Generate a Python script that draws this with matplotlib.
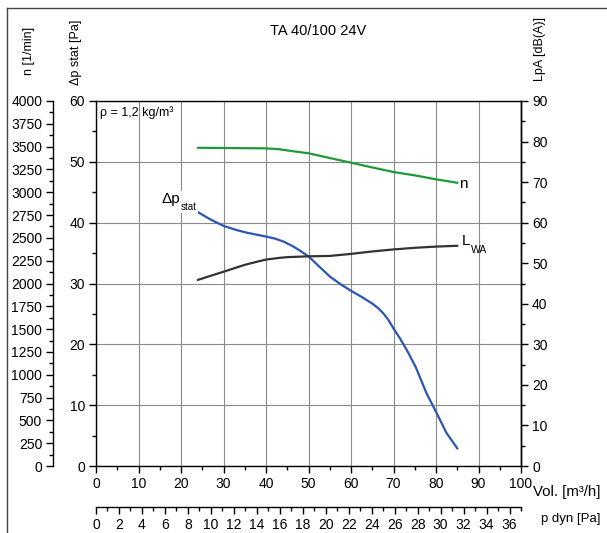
import matplotlib
matplotlib.use("Agg")
import matplotlib.pyplot as plt
from matplotlib.lines import Line2D
from matplotlib.ticker import MultipleLocator

plt.rcParams["font.family"] = ["Liberation Sans", "DejaVu Sans"]

# curve readings (volume flow in m3/h)
vol_p = [23.8, 27.0, 30.1, 33.0, 35.5, 38.0, 40.1, 42.0, 44.1, 46.4, 48.0,
         50.1, 52.5, 55.1, 57.5, 60.0, 62.5, 65.0, 66.3, 67.6, 68.8, 70.0,
         71.5, 73.1, 75.2, 77.8, 80.0, 82.5, 85.0]
dp_stat = [41.8, 40.5, 39.45, 38.8, 38.35, 38.0, 37.7, 37.4, 36.9, 36.1, 35.4,
           34.4, 32.8, 31.1, 29.9, 28.8, 27.8, 26.7, 26.0, 25.1, 24.0, 22.6,
           21.0, 19.1, 16.3, 11.9, 8.9, 5.4, 2.9]

vol_n = [24, 30, 40, 43, 46, 50, 55, 60, 65, 70, 75, 80, 85]
speed_n = [3487, 3485, 3481, 3472, 3452, 3427, 3375, 3324, 3272, 3222, 3185, 3142, 3104]

vol_l = [24, 30, 35, 38, 40, 43, 45, 50, 55, 60, 65, 70, 75, 80, 85]
lwa = [45.9, 47.9, 49.6, 50.4, 50.9, 51.3, 51.5, 51.7, 51.8, 52.3, 52.9, 53.4, 53.8, 54.1, 54.3]

W, H = 607, 533
fig = plt.figure(figsize=(W / 100, H / 100), dpi=100)
L, R, T, B = 96, 521, 101, 466
ax = fig.add_axes([L / W, 1 - B / H, (R - L) / W, (B - T) / H])

FS = 10
tick_kw = dict(labelsize=FS, width=1, colors="black")

# main axis: static pressure
ax.set_xlim(0, 100)
ax.set_ylim(0, 60)
ax.xaxis.set_major_locator(MultipleLocator(10))
ax.xaxis.set_minor_locator(MultipleLocator(5))
ax.yaxis.set_major_locator(MultipleLocator(10))
ax.yaxis.set_minor_locator(MultipleLocator(5))
ax.tick_params(which="major", length=5, pad=3, **tick_kw)
ax.tick_params(which="minor", length=3, width=1)
ax.grid(True, which="major", color="#8a8a8a", lw=0.8)
for s in ax.spines.values():
    s.set_linewidth(1)
ax.plot(vol_p, dp_stat, color="#2b55b5", lw=1.6, zorder=5)

# speed axis on the far left
ax_n = ax.twinx()
ax_n.set_ylim(0, 4000)
ax_n.yaxis.tick_left()
ax_n.spines["left"].set_position(("axes", -0.1005))
for k in ("right", "top", "bottom"):
    ax_n.spines[k].set_visible(False)
ax_n.spines["left"].set_linewidth(1)
ax_n.yaxis.set_major_locator(MultipleLocator(250))
ax_n.yaxis.set_minor_locator(MultipleLocator(125))
ax_n.tick_params(which="major", length=5, pad=3, **tick_kw)
ax_n.tick_params(which="minor", length=3, width=1)
ax_n.plot(vol_n, speed_n, color="#1e9a3a", lw=1.6)

# sound level axis on the right
ax_r = ax.twinx()
ax_r.set_ylim(0, 90)
for k in ("left", "top", "bottom"):
    ax_r.spines[k].set_visible(False)
ax_r.spines["right"].set_linewidth(1)
ax_r.yaxis.set_major_locator(MultipleLocator(10))
ax_r.yaxis.set_minor_locator(MultipleLocator(5))
ax_r.tick_params(which="major", length=5, pad=3, **tick_kw)
ax_r.tick_params(which="minor", length=3, width=1)
ax_r.plot(vol_l, lwa, color="#333333", lw=1.6)

# dynamic pressure axis below
ax_p = ax.twiny()
ax_p.set_xlim(0, 37)
ax_p.xaxis.tick_bottom()
ax_p.spines["bottom"].set_position(("axes", -0.1123))
for k in ("left", "top", "right"):
    ax_p.spines[k].set_visible(False)
ax_p.spines["bottom"].set_linewidth(1)
ax_p.xaxis.set_major_locator(MultipleLocator(2))
ax_p.xaxis.set_minor_locator(MultipleLocator(1))
ax_p.tick_params(which="major", length=5, pad=3, **tick_kw)
ax_p.tick_params(which="minor", length=3, width=1)


def px(x, y):
    return x / W, 1 - y / H


fig.text(*px(318, 31), "TA 40/100 24V", fontsize=10.5, ha="center", va="center")
fig.text(*px(29, 51), "n [1/min]", fontsize=9, rotation=90, ha="center", va="center")
fig.text(*px(76, 52), "\u0394p stat [Pa]", fontsize=9, rotation=90, ha="center", va="center")
fig.text(*px(540, 49), "LpA [dB(A)]", fontsize=9, rotation=90, ha="center", va="center")
fig.text(*px(533, 492), "Vol. [m\u00b3/h]", fontsize=10.8, ha="left", va="center")
fig.text(*px(541, 519), "p dyn [Pa]", fontsize=9.5, ha="left", va="center")
fig.text(*px(100, 113), "\u03c1 = 1,2 kg/m\u00b3", fontsize=9, ha="left", va="center")
fig.text(*px(459, 184), "n", fontsize=11, ha="left", va="center")
fig.text(*px(462, 241), "L", fontsize=11, ha="left", va="center")
fig.text(*px(471, 250), "WA", fontsize=7.5, ha="left", va="center")
fig.text(*px(162, 199), "\u0394p", fontsize=11, ha="left", va="center",
         bbox=dict(fc="white", ec="none", pad=1))
fig.text(*px(181, 207), "stat", fontsize=7, ha="left", va="center",
         bbox=dict(fc="white", ec="none", pad=0.5))

# outer frame (top and left edges)
fig.add_artist(Line2D([7 / W, 7 / W], [0, 1 - 8 / H], transform=fig.transFigure,
                      color="#444444", lw=1))
fig.add_artist(Line2D([7 / W, 1], [1 - 8 / H, 1 - 8 / H], transform=fig.transFigure,
                      color="#444444", lw=1))

fig.savefig("out.png", dpi=100)
